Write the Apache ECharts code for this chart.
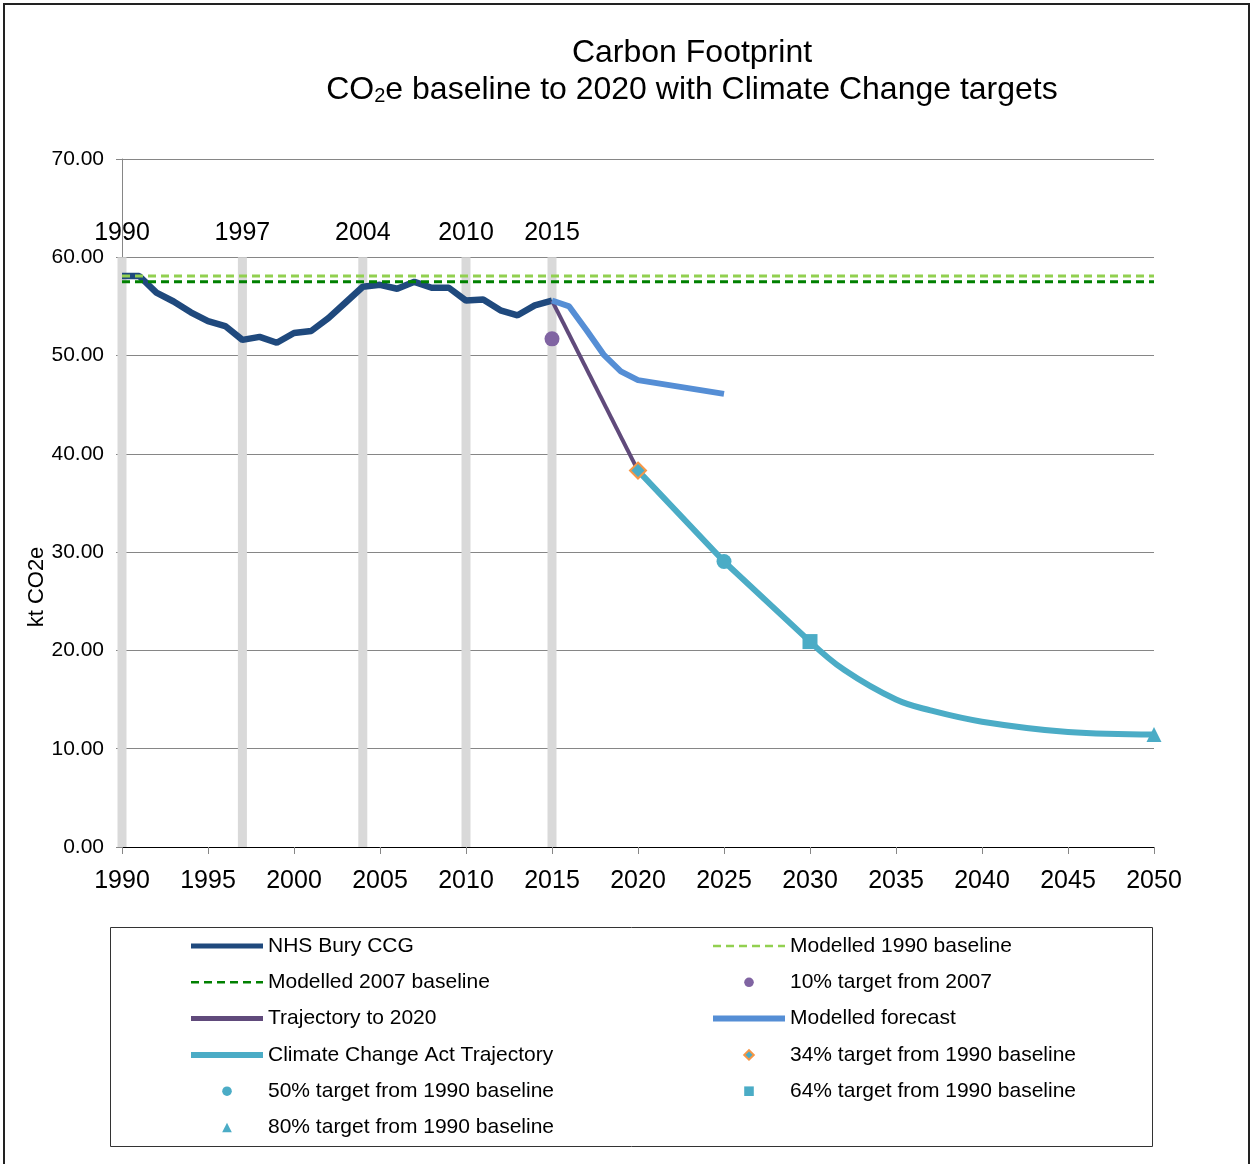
<!DOCTYPE html>
<html lang="en">
<head>
<meta charset="UTF-8" />
<title>Carbon Footprint</title>
<style>
    * { box-sizing: border-box; margin: 0; padding: 0; }
    #chart { width: 1252px; height: 1164px; background: #fff; }
</style>
</head>
<body>
<div id="chart"></div>
<script src="https://cdn.jsdelivr.net/npm/echarts@6/dist/echarts.min.js"></script>
<script>
// NHS Bury CCG actual footprint, 1990 - 2015
var nhsYears = [1990, 1991, 1992, 1993, 1994, 1995, 1996, 1997, 1998, 1999, 2000, 2001, 2002,
    2003, 2004, 2005, 2006, 2007, 2008, 2009, 2010, 2011, 2012, 2013, 2014, 2015]
var nhsValues = [58.1, 58.1, 56.4, 55.5, 54.4, 53.5, 53.0, 51.6, 51.9, 51.3, 52.3, 52.5, 53.8,
    55.4, 57.0, 57.2, 56.8, 57.5, 56.9, 56.9, 55.6, 55.7, 54.6, 54.1, 55.1, 55.6]

// baselines (drawn flat across the whole axis)
var baselineYears = [1990, 2050]
var baseline1990 = 58.1
var baseline2007 = 57.5

// forecast and trajectories
var forecastYears = [2015, 2016, 2017, 2018, 2019, 2020, 2025]
var forecastValues = [55.6, 55.0, 52.6, 50.1, 48.4, 47.5, 46.1]
var trajYears = [2015, 2020]
var trajValues = [55.6, 38.3]
// Climate Change Act trajectory: straight part, then the curved tail
var ccaYears = [2020, 2025, 2030]
var ccaValues = [38.3, 29.05, 20.9]
var ccaTailYears = [2030, 2032, 2035, 2037, 2040, 2045, 2050]
var ccaTailValues = [20.9, 18.0, 15.0, 13.9, 12.75, 11.7, 11.45]

// targets
var target10 = [2015, 51.7]
var target34 = [2020, 38.3]
var target50 = [2025, 29.05]
var target64 = [2030, 20.9]
var target80 = [2050, 11.45]

// grey marker bars
var markYears = [1990, 1997, 2004, 2010, 2015]
var markHeight = 60

var FONT = '"Liberation Sans", Arial, sans-serif'

function pairs(xs, ys) {
    return xs.map(function (x, i) { return [x, ys[i]] })
}

var chart = echarts.init(document.getElementById('chart'))

var legendText = { fontSize: 21, lineHeight: 24, color: '#000', fontFamily: FONT }

chart.setOption({
    animation: false,
    textStyle: { fontFamily: FONT, color: '#000' },
    title: [
        {
            text: 'Carbon Footprint',
            left: 687,
            top: 32,
            textAlign: 'center',
            textStyle: { fontSize: 32, fontWeight: 'normal', color: '#000', fontFamily: FONT }
        },
        {
            text: '{a|CO}{s|2}{a|e baseline to 2020 with Climate Change targets}',
            left: 687,
            top: 67,
            textAlign: 'center',
            textStyle: {
                fontWeight: 'normal',
                rich: {
                    a: { fontSize: 32, fontWeight: 'normal', color: '#000', fontFamily: FONT, verticalAlign: 'bottom' },
                    s: { fontSize: 20, fontWeight: 'normal', color: '#000', fontFamily: FONT, padding: [14, 0, 0, 0] }
                }
            }
        }
    ],
    grid: { left: 122, top: 159, right: 98, bottom: 317 },
    xAxis: {
        type: 'value',
        min: 1990,
        max: 2050,
        interval: 5,
        axisLine: { lineStyle: { color: '#000', width: 1 } },
        axisTick: { show: true, length: 7, lineStyle: { color: '#868686' } },
        axisLabel: { fontSize: 25, color: '#000', margin: 22, formatter: function (v) { return v } },
        splitLine: { show: false }
    },
    yAxis: {
        type: 'value',
        min: 0,
        max: 70,
        interval: 10,
        axisLine: { show: true, lineStyle: { color: '#868686' } },
        axisTick: { show: true, length: 6, lineStyle: { color: '#868686' } },
        axisLabel: { fontSize: 21, color: '#000', margin: 18, formatter: function (v) { return v.toFixed(2) } },
        splitLine: { lineStyle: { color: '#868686', width: 1 } }
    },
    graphic: [
        {
            type: 'rect',
            shape: { x: 4, y: 4, width: 1245, height: 1170 },
            style: { fill: 'none', stroke: '#222', lineWidth: 2 },
            silent: true
        },
        {
            type: 'rect',
            shape: { x: 110.5, y: 927.5, width: 1042, height: 219 },
            style: { fill: 'none', stroke: '#333', lineWidth: 1 },
            silent: true
        },
        {
            type: 'text',
            x: 37,
            y: 587,
            rotation: Math.PI / 2,
            style: { text: 'kt CO2e', font: '22px ' + FONT, fill: '#000', align: 'center', verticalAlign: 'middle' }
        }
    ],
    legend: [
        {
            orient: 'vertical',
            left: 183,
            top: 929,
            itemWidth: 72,
            itemHeight: 12,
            itemGap: 12.3,
            selectedMode: false,
            textStyle: legendText,
            data: [
                { name: 'NHS Bury CCG', itemStyle: { opacity: 0 }, lineStyle: { width: 5 } },
                { name: 'Modelled 2007 baseline', itemStyle: { opacity: 0 }, lineStyle: { width: 2.5 } },
                { name: 'Trajectory to 2020', itemStyle: { opacity: 0 }, lineStyle: { width: 5 } },
                { name: 'Climate Change Act Trajectory', itemStyle: { opacity: 0 }, lineStyle: { width: 6 } },
                { name: '50% target from 1990 baseline' },
                { name: '80% target from 1990 baseline' }
            ]
        },
        {
            orient: 'vertical',
            left: 705,
            top: 929,
            itemWidth: 72,
            itemHeight: 12,
            itemGap: 12.3,
            selectedMode: false,
            textStyle: legendText,
            data: [
                { name: 'Modelled 1990 baseline', itemStyle: { opacity: 0 }, lineStyle: { width: 2.5 } },
                { name: '10% target from 2007' },
                { name: 'Modelled forecast', itemStyle: { opacity: 0 }, lineStyle: { width: 6 } },
                { name: '34% target from 1990 baseline' },
                { name: '64% target from 1990 baseline' }
            ]
        }
    ],
    series: [
        {
            name: 'year marks',
            type: 'bar',
            barWidth: 9,
            z: 1,
            itemStyle: { color: '#D9D9D9' },
            label: {
                show: true,
                position: 'top',
                distance: 12,
                fontSize: 25,
                color: '#000',
                fontFamily: FONT,
                formatter: function (p) { return p.value[0] }
            },
            data: markYears.map(function (y) { return [y, markHeight] })
        },
        {
            name: 'NHS Bury CCG',
            type: 'line',
            z: 3,
            symbol: 'none',
            lineStyle: { color: '#1F497D', width: 6.5 },
            itemStyle: { color: '#1F497D' },
            data: pairs(nhsYears, nhsValues)
        },
        {
            name: 'Modelled 1990 baseline',
            type: 'line',
            z: 4,
            symbol: 'none',
            lineStyle: { color: '#92D050', width: 3, type: [8, 5] },
            itemStyle: { color: '#92D050' },
            data: baselineYears.map(function (y) { return [y, baseline1990] })
        },
        {
            name: 'Modelled 2007 baseline',
            type: 'line',
            z: 4,
            symbol: 'none',
            lineStyle: { color: '#008000', width: 3, type: [8, 5] },
            itemStyle: { color: '#008000' },
            data: baselineYears.map(function (y) { return [y, baseline2007] })
        },
        {
            name: 'Trajectory to 2020',
            type: 'line',
            z: 4,
            symbol: 'none',
            lineStyle: { color: '#604A7B', width: 4 },
            itemStyle: { color: '#604A7B' },
            data: pairs(trajYears, trajValues)
        },
        {
            name: 'Modelled forecast',
            type: 'line',
            z: 5,
            symbol: 'none',
            lineStyle: { color: '#558ED5', width: 6 },
            itemStyle: { color: '#558ED5' },
            data: pairs(forecastYears, forecastValues)
        },
        {
            name: 'Climate Change Act Trajectory',
            type: 'line',
            z: 5,
            symbol: 'none',
            lineStyle: { color: '#4BACC6', width: 6 },
            itemStyle: { color: '#4BACC6' },
            data: pairs(ccaYears, ccaValues)
        },
        {
            name: 'Climate Change Act Trajectory',
            type: 'line',
            z: 5,
            symbol: 'none',
            smooth: 0.4,
            lineStyle: { color: '#4BACC6', width: 6 },
            itemStyle: { color: '#4BACC6' },
            data: pairs(ccaTailYears, ccaTailValues)
        },
        {
            name: '10% target from 2007',
            type: 'line',
            z: 6,
            symbol: 'circle',
            symbolSize: 15,
            lineStyle: { width: 0 },
            itemStyle: { color: '#8064A2' },
            data: [target10]
        },
        {
            name: '34% target from 1990 baseline',
            type: 'line',
            z: 6,
            symbol: 'diamond',
            symbolSize: 16,
            lineStyle: { width: 0 },
            itemStyle: { color: '#4BACC6', borderColor: '#F79646', borderWidth: 2 },
            data: [target34]
        },
        {
            name: '50% target from 1990 baseline',
            type: 'line',
            z: 6,
            symbol: 'circle',
            symbolSize: 15,
            lineStyle: { width: 0 },
            itemStyle: { color: '#4BACC6' },
            data: [target50]
        },
        {
            name: '64% target from 1990 baseline',
            type: 'line',
            z: 6,
            symbol: 'rect',
            symbolSize: 15,
            lineStyle: { width: 0 },
            itemStyle: { color: '#4BACC6' },
            data: [target64]
        },
        {
            name: '80% target from 1990 baseline',
            type: 'line',
            z: 6,
            symbol: 'triangle',
            symbolSize: 15,
            lineStyle: { width: 0 },
            itemStyle: { color: '#4BACC6' },
            data: [target80]
        }
    ]
})
</script>
</body>
</html>
